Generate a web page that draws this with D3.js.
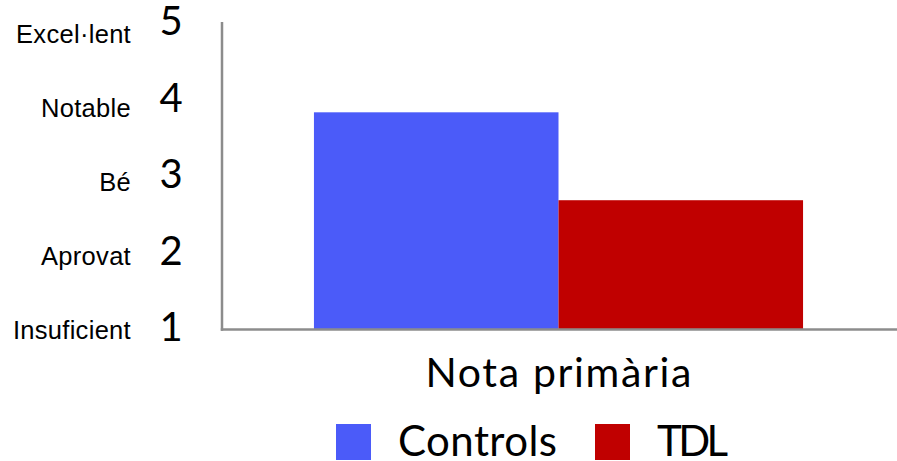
<!DOCTYPE html>
<html>
<head>
<meta charset="utf-8">
<script src="https://cdn.jsdelivr.net/npm/d3@7"></script>
<style>
  html, body { margin: 0; padding: 0; background: #fff; }
  svg { display: block; }
</style>
</head>
<body>
<svg id="chart" width="897" height="461"></svg>
<script>
const categories = ["Nota primària"];
const seriesNames = ["Controls", "TDL"];
const controlsValues = [3.94];
const tdlValues = [2.75];
const tickValues = [1, 2, 3, 4, 5];
const tickNames = ["Insuficient", "Aprovat", "Bé", "Notable", "Excel·lent"];
const colors = ["#4B5BF9", "#C00000"];

(function () {
const svg = d3.select("#chart");
const mLeft = 222, mRight = 895, mBottom = 329.5, mTop = 22;

const y = d3.scaleLinear().domain([1, 5]).range([mBottom, 34]);
const yDigit = d3.scaleLinear().domain([1, 5]).range([327, 21]);
const x0 = d3.scaleBand().domain(categories).range([mLeft, mRight]).paddingInner(0).paddingOuter(0.188);
const x1 = d3.scaleBand().domain(seriesNames).range([0, x0.bandwidth()]).padding(0);

const data = categories.map((c, i) => ({ cat: c, values: [controlsValues[i], tdlValues[i]] }));

// bars
const g = svg.append("g");
g.selectAll("g.cat").data(data).join("g")
  .attr("class", "cat")
  .attr("transform", d => `translate(${x0(d.cat)},0)`)
  .selectAll("rect").data(d => d.values.map((v, k) => ({ v, k })))
  .join("rect")
  .attr("x", d => x1(seriesNames[d.k]))
  .attr("width", x1.bandwidth())
  .attr("y", d => y(d.v))
  .attr("height", d => y(1) - y(d.v))
  .attr("fill", d => colors[d.k]);

// axes lines
svg.append("line").attr("x1", mLeft).attr("x2", mLeft).attr("y1", mTop).attr("y2", mBottom + 1.2)
  .attr("stroke", "#8C8C8C").attr("stroke-width", 2.5);
svg.append("line").attr("x1", mLeft - 1.2).attr("x2", 897).attr("y1", mBottom).attr("y2", mBottom)
  .attr("stroke", "#8C8C8C").attr("stroke-width", 2.5);

// y tick names (Arial-like)
svg.append("g").selectAll("text").data(tickValues).join("text")
  .attr("x", 131)
  .attr("y", d => y(d))
  .attr("dy", "0.36em")
  .attr("text-anchor", "end")
  .attr("font-family", "Liberation Sans, Arial, sans-serif")
  .attr("font-size", 25.5)
  .attr("letter-spacing", 0.3)
  .attr("fill", "#000")
  .text((d, i) => tickNames[i]);

// y digits
svg.append("g").selectAll("text").data(tickValues).join("text")
  .attr("x", 171)
  .attr("y", d => yDigit(d))
  .attr("dy", "0.36em")
  .attr("text-anchor", "middle")
  .attr("font-family", "Lato, sans-serif")
  .attr("font-size", 40)
  .attr("fill", "#000")
  .text(d => d);

// category label
svg.append("g").selectAll("text").data(categories).join("text")
  .attr("x", d => x0(d) + x0.bandwidth() / 2)
  .attr("y", 387)
  .attr("text-anchor", "middle")
  .attr("font-family", "Lato, sans-serif")
  .attr("font-size", 41)
  .attr("textLength", 266)
  .attr("lengthAdjust", "spacing")
  .attr("fill", "#000")
  .text(d => d);

// legend
const legX = [336, 595];
const legW = [159, 71];
const lg = svg.append("g");
seriesNames.forEach((s, i) => {
  lg.append("rect").attr("x", legX[i]).attr("y", 424).attr("width", 35).attr("height", 36).attr("fill", colors[i]);
  lg.append("text").attr("x", legX[i] + 62).attr("y", 456)
    .attr("font-family", "Lato, sans-serif").attr("font-size", 42)
    .attr("textLength", legW[i]).attr("lengthAdjust", "spacing")
    .attr("fill", "#000").text(s);
});
})();
</script>
</body>
</html>
